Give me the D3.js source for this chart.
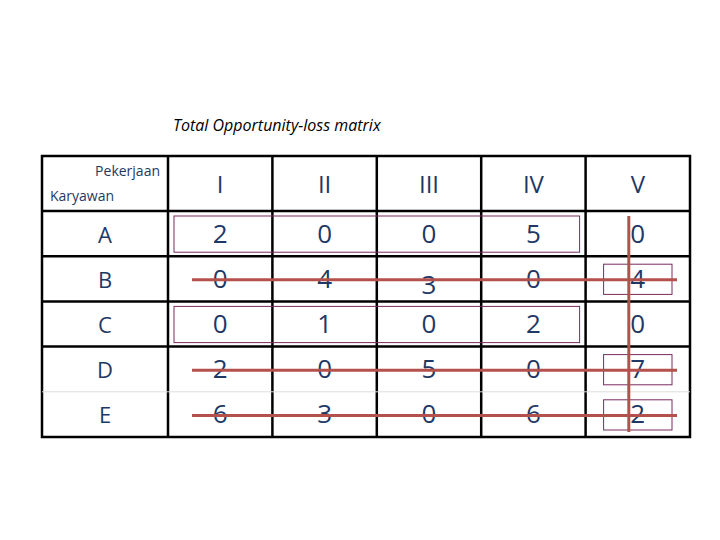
<!DOCTYPE html>
<html><head><meta charset="utf-8">
<script src="https://cdn.jsdelivr.net/npm/d3@7"></script>
<style>body{margin:0;background:#fff}</style></head>
<body><svg id="c" width="720" height="540"></svg>
<script>
const title = "Total Opportunity-loss matrix";
const jobs = ["I","II","III","IV","V"];
const workers = ["A","B","C","D","E"];
const values = [
  [2,0,0,5,0],
  [0,4,3,0,4],
  [0,1,0,2,0],
  [2,0,5,0,7],
  [6,3,0,6,2]
];
const coveredRows = ["B","D","E"];
const coveredCols = ["V"];
const boxedRows = [{row:"A",from:"I",to:"IV"},{row:"C",from:"I",to:"IV"}];
const boxedCells = [{row:"B",col:"V"},{row:"D",col:"V"},{row:"E",col:"V"}];

(function(){
const svg = d3.select("#c");
const navy = "#1f3864", red = "#b5514d", box = "#7a2a5e";
const x = d3.scaleBand().domain(jobs).range([168,690]);
const y = d3.scaleBand().domain(workers).range([211,437]);
const gLeft = 42, gTop = 156;

svg.append("text").attr("x",173).attr("y",131).attr("font-family","Open Sans, sans-serif")
  .attr("font-style","italic").attr("font-size",16).attr("fill","#000").text(title);

const g = svg.append("g").attr("stroke","#000").attr("stroke-width",2.5);
g.append("rect").attr("x",gLeft).attr("y",gTop).attr("width",690-gLeft).attr("height",437-gTop).attr("fill","none");
jobs.forEach(j=>{ g.append("line").attr("x1",x(j)).attr("x2",x(j)).attr("y1",gTop).attr("y2",437);});
workers.forEach(w=>{
  const yy=y(w);
  const l=g.append("line").attr("x1",gLeft).attr("x2",690).attr("y1",yy).attr("y2",yy);
  if(w==="E") l.attr("stroke","#ddd").attr("stroke-width",1);
});

const font="Open Sans, DejaVu Sans, sans-serif";
svg.append("text").attr("x",160).attr("y",176).attr("text-anchor","end").attr("font-family",font).attr("font-size",14).attr("fill",navy).text("Pekerjaan");
svg.append("text").attr("x",50).attr("y",201).attr("font-family",font).attr("font-size",14).attr("fill",navy).text("Karyawan");

svg.selectAll(".h").data(jobs).join("text").attr("x",d=>x(d)+x.bandwidth()/2).attr("y",193)
  .attr("text-anchor","middle").attr("font-family",font).attr("font-size",24).attr("fill",navy).text(d=>d);
svg.selectAll(".r").data(workers).join("text").attr("x",105).attr("y",d=>y(d)+y.bandwidth()/2+9)
  .attr("text-anchor","middle").attr("font-family",font).attr("font-size",22).attr("fill",navy).text(d=>d);

values.forEach((row,i)=>row.forEach((v,j)=>{
  const w=workers[i], c=jobs[j];
  svg.append("text").attr("x",x(c)+x.bandwidth()/2)
    .attr("y",y(w)+y.bandwidth()/2+9+(w==="B"&&c==="III"?6:0))
    .attr("text-anchor","middle").attr("font-family",font).attr("font-size",26).attr("fill",navy).text(v);
}));

boxedRows.forEach(b=>{
  svg.append("rect").attr("x",x(b.from)+6).attr("y",y(b.row)+5)
    .attr("width",x(b.to)+x.bandwidth()-6-(x(b.from)+6)).attr("height",y.bandwidth()-9)
    .attr("fill","none").attr("stroke",box).attr("stroke-width",1);
});
boxedCells.forEach(b=>{
  svg.append("rect").attr("x",x(b.col)+18).attr("y",y(b.row)+8)
    .attr("width",x.bandwidth()-36).attr("height",y.bandwidth()-15)
    .attr("fill","none").attr("stroke",box).attr("stroke-width",1);
});
coveredRows.forEach(r=>{
  svg.append("line").attr("x1",192).attr("x2",677).attr("y1",y(r)+y.bandwidth()/2+1).attr("y2",y(r)+y.bandwidth()/2+1)
    .attr("stroke",red).attr("stroke-width",3);
});
coveredCols.forEach(c=>{
  svg.append("line").attr("x1",x(c)+x.bandwidth()/2-9).attr("x2",x(c)+x.bandwidth()/2-9).attr("y1",216).attr("y2",432)
    .attr("stroke",red).attr("stroke-width",3);
});
})();
</script></body></html>
